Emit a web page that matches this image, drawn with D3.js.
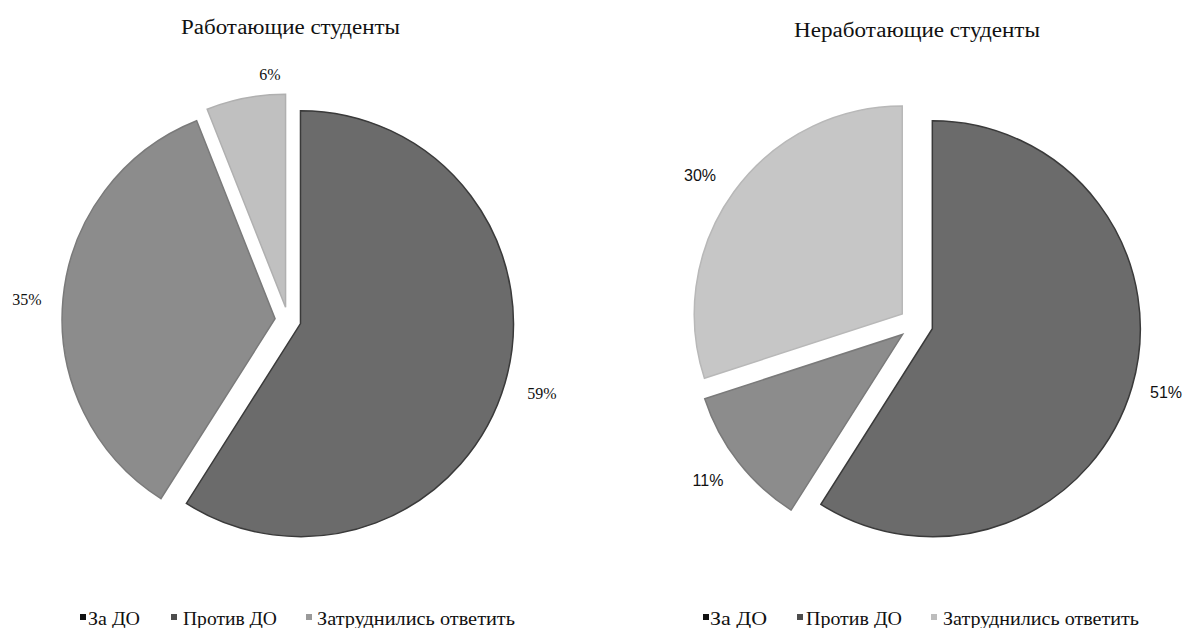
<!DOCTYPE html>
<html>
<head>
<meta charset="utf-8">
<script src="https://cdn.jsdelivr.net/npm/d3@7"></script>
<style>
  body { margin: 0; background: #fff; }
</style>
</head>
<body>
<svg id="svg-canvas" width="1183" height="628"></svg>
<script>
const SERIF = '"Liberation Serif", "Times New Roman", "DejaVu Serif", serif';
const SANS = '"Liberation Sans", Arial, sans-serif';

// data
const legendNames = ['За ДО', 'Против ДО', 'Затруднились ответить'];
const titles = ['Работающие студенты', 'Неработающие студенты'];

// slice sizes (clockwise from 12 o'clock) and the labels printed next to them
const workingValues = [59, 35, 6];
const workingLabels = ['59%', '35%', '6%'];
const notWorkingValues = [59, 11, 30]; // the big slice is printed as 51% in the source
const notWorkingLabels = ['51%', '11%', '30%'];

const svg = d3.select('#svg-canvas');

const charts = [
  { values: workingValues, labels: workingLabels, cx: 288, cy: 320, r: 213, explode: 13,
    fills: ['#6b6b6b', '#8c8c8c', '#c0c0c0'], strokes: ['#3a3a3a', '#7a7a7a', '#b0b0b0'],
    labelPos: [[542, 399], [27, 305], [270, 80]], labelFont: SERIF,
    title: titles[0], titleX: 181, titleW: 219, titleY: 34,
    legendX: [80, 171, 306], legendTextX: [88, 183, 317], legendTextW: [52, 94, 198],
    legendFill: ['#111', '#4d4d4d', '#9a9a9a'] },
  { values: notWorkingValues, labels: notWorkingLabels, cx: 916, cy: 324, r: 208, explode: 17,
    fills: ['#6b6b6b', '#8c8c8c', '#c6c6c6'], strokes: ['#3a3a3a', '#7a7a7a', '#b8b8b8'],
    labelPos: [[1166, 398], [708, 486], [700, 181]], labelFont: SANS,
    title: titles[1], titleX: 794, titleW: 246, titleY: 37,
    legendX: [703, 797, 931], legendTextX: [710, 806, 943], legendTextW: [57, 96, 196],
    legendFill: ['#111', '#4d4d4d', '#bdbdbd'] }
];

const pie = d3.pie().sort(null).value(d => d);

charts.forEach(c => {
  const g = svg.append('g').attr('transform', `translate(${c.cx}, ${c.cy})`);
  const arc = d3.arc().innerRadius(0).outerRadius(c.r);

  // exploded slices
  g.selectAll('path')
    .data(pie(c.values))
    .join('path')
    .attr('d', arc)
    .attr('fill', (d, i) => c.fills[i])
    .attr('stroke', (d, i) => c.strokes[i])
    .attr('stroke-width', 1.5)
    .attr('transform', d => {
      const a = (d.startAngle + d.endAngle) / 2;
      return `translate(${Math.sin(a) * c.explode}, ${-Math.cos(a) * c.explode})`;
    });

  // percent labels
  svg.selectAll(null)
    .data(c.labels)
    .join('text')
    .attr('x', (d, i) => c.labelPos[i][0])
    .attr('y', (d, i) => c.labelPos[i][1])
    .attr('text-anchor', 'middle')
    .attr('font-family', c.labelFont)
    .attr('font-size', 16)
    .attr('fill', '#111')
    .text(d => d);

  // title
  svg.append('text')
    .attr('x', c.titleX)
    .attr('y', c.titleY)
    .attr('font-family', SERIF)
    .attr('font-size', 20)
    .attr('fill', '#111')
    .attr('textLength', c.titleW)
    .attr('lengthAdjust', 'spacingAndGlyphs')
    .text(c.title);

  // legend
  const lg = svg.append('g');
  legendNames.forEach((name, i) => {
    lg.append('rect')
      .attr('x', c.legendX[i])
      .attr('y', 614)
      .attr('width', 6)
      .attr('height', 6)
      .attr('fill', c.legendFill[i]);
    lg.append('text')
      .attr('x', c.legendTextX[i])
      .attr('y', 625)
      .attr('font-family', SERIF)
      .attr('font-size', 19)
      .attr('fill', '#111')
      .attr('textLength', c.legendTextW[i])
      .attr('lengthAdjust', 'spacingAndGlyphs')
      .text(name);
  });
});
</script>
</body>
</html>
